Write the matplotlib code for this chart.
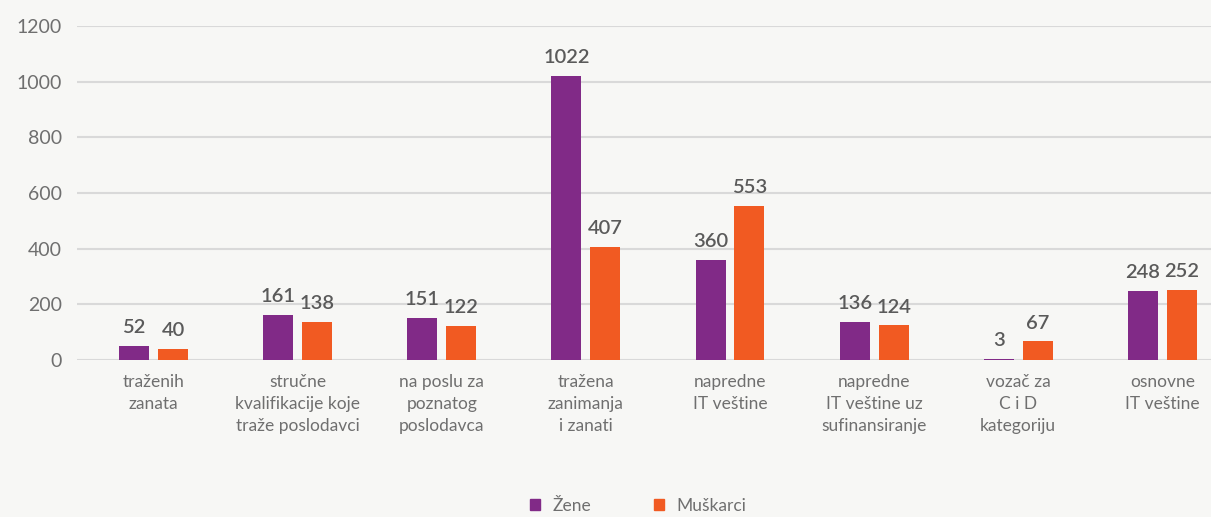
import matplotlib.pyplot as plt
import numpy as np
from matplotlib.patches import Patch

plt.rcParams['font.family'] = ['Lato', 'DejaVu Sans']

categories = ['traženih\nzanata',
              'stručne\nkvalifikacije koje\ntraže poslodavci',
              'na poslu za\npoznatog\nposlodavca',
              'tražena\nzanimanja\ni zanati',
              'napredne\nIT veštine',
              'napredne\nIT veštine uz\nsufinansiranje',
              'vozač za\nC i D\nkategoriju',
              'osnovne\nIT veštine']
zene = [52, 161, 151, 1022, 360, 136, 3, 248]
muskarci = [40, 138, 122, 407, 553, 124, 67, 252]
series_names = ['Žene', 'Muškarci']

purple = '#812a87'
orange = '#f15a22'
bg = '#f7f7f5'
txt = '#6f6f6f'

fig = plt.figure(figsize=(12.11, 5.17), dpi=100, facecolor=bg)
ax = fig.add_axes([77 / 1211, 157 / 517, 1 - 77 / 1211, 334 / 517])
ax.set_facecolor(bg)

x = np.arange(len(categories))
w = 0.208
off = 0.135
b1 = ax.bar(x - off, zene, w, color=purple, zorder=3)
b2 = ax.bar(x + off, muskarci, w, color=orange, zorder=3)

# value labels above the bars
for bars in (b1, b2):
    for rect in bars:
        h = rect.get_height()
        ax.annotate(f'{int(h)}', (rect.get_x() + rect.get_width() / 2, h),
                    xytext=(0, 7), textcoords='offset points',
                    ha='center', va='bottom', fontsize=14.5,
                    color='#5a5a5a', fontweight='semibold')

ax.set_ylim(0, 1200)
ax.set_xlim(-0.532, 7.338)
ax.set_yticks(np.arange(0, 1201, 200))
ax.set_xticks(x)
ax.set_xticklabels(categories, fontsize=12.5, color=txt, linespacing=1.45)
ax.tick_params(axis='both', length=0)
ax.tick_params(axis='x', pad=10)
ax.tick_params(axis='y', pad=11, labelsize=14, labelcolor=txt)
ax.yaxis.grid(True, color='#d9d9d9', linewidth=1.5, zorder=0)
for s in ax.spines.values():
    s.set_visible(False)

handles = [Patch(color=purple), Patch(color=orange)]
fig.legend(handles, series_names, loc='center', bbox_to_anchor=(0.527, 0.022),
           ncol=2, frameon=False, fontsize=12.5, labelcolor=txt,
           handlelength=0.6, handleheight=0.6, handletextpad=0.7,
           columnspacing=3.6)

fig.savefig('out.png', dpi=100, facecolor=bg)
